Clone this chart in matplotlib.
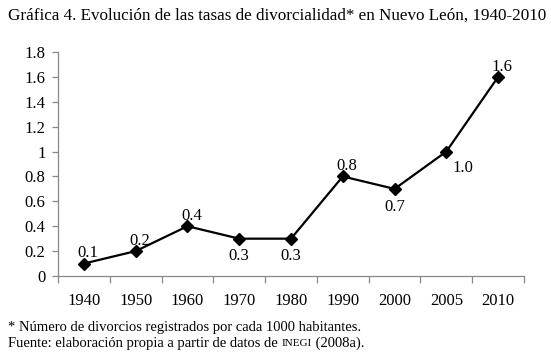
import matplotlib
matplotlib.use("Agg")
import matplotlib.pyplot as plt
from matplotlib.ticker import FixedLocator, NullFormatter

categories = ["1940", "1950", "1960", "1970", "1980", "1990", "2000", "2005", "2010"]
values = [0.1, 0.2, 0.4, 0.3, 0.3, 0.8, 0.7, 1.0, 1.6]
value_labels = ["0.1", "0.2", "0.4", "0.3", "0.3", "0.8", "0.7", "1.0", "1.6"]
label_pos = ["above", "above", "above", "below", "below", "above", "below", "belowright", "above"]
y_ticks = [0, 0.2, 0.4, 0.6, 0.8, 1, 1.2, 1.4, 1.6, 1.8]
y_ticklabels = ["0", "0.2", "0.4", "0.6", "0.8", "1", "1.2", "1.4", "1.6", "1.8"]

title = "Gráfica 4. Evolución de las tasas de divorcialidad* en Nuevo León, 1940-2010"
note1 = "* Número de divorcios registrados por cada 1000 habitantes."
note2a = "Fuente: elaboración propia a partir de datos de "
note2b = "INEGI"
note2c = " (2008a)."

plt.rcParams['font.family'] = ['Liberation Serif', 'DejaVu Serif']

fig = plt.figure(figsize=(5.51, 3.53), dpi=100)
ax = fig.add_axes([58/551, 1-276/353, (524-58)/551, (276-52)/353])

x = list(range(len(categories)))
ax.plot(x, values, color='black', lw=1.6, marker='D', markersize=6.5, zorder=3)

ax.set_xlim(-0.5, len(categories) - 0.5)
ax.set_ylim(0, 1.8)
ax.yaxis.set_major_locator(FixedLocator(y_ticks))
ax.set_yticklabels(y_ticklabels)
ax.set_xticks(x)
ax.set_xticklabels(categories)
ax.xaxis.set_minor_locator(FixedLocator([i - 0.5 for i in range(len(categories) + 1)]))
ax.xaxis.set_minor_formatter(NullFormatter())
ax.tick_params(axis='x', which='major', length=0, pad=12.5, labelsize=12)
ax.tick_params(axis='x', which='minor', length=5, width=0.9, color='#888888', direction='out')
ax.tick_params(axis='y', which='major', length=4, width=0.9, color='#888888', direction='out', labelsize=12, pad=5)

for s in ['top', 'right']:
    ax.spines[s].set_visible(False)
for s in ['left', 'bottom']:
    ax.spines[s].set_color('#888888')
    ax.spines[s].set_linewidth(0.9)

for xi, v, lab, pos in zip(x, values, value_labels, label_pos):
    if pos == 'above':
        off = (3, 1.5); va = 'bottom'
    elif pos == 'below':
        off = (0, -7); va = 'top'
    else:
        off = (12, -6); va = 'top'
    ax.annotate(lab, (xi, v), xytext=off, textcoords='offset points',
                ha='center', va=va, fontsize=12)

fig.text(8/551, 1-16/353, title, fontsize=12.25, va='center', ha='left')
fig.text(8/551, 1-327/353, note1, fontsize=10.5, va='center', ha='left')

renderer = fig.canvas.get_renderer()
t1 = fig.text(8/551, 1-343/353, note2a, fontsize=10.5, va='center', ha='left')
bb = t1.get_window_extent(renderer)
t2 = fig.text(bb.x1/fig.bbox.width, 1-343/353, note2b, fontsize=8, va='center', ha='left')
bb2 = t2.get_window_extent(renderer)
fig.text(bb2.x1/fig.bbox.width, 1-343/353, note2c, fontsize=10.5, va='center', ha='left')

fig.savefig("out.png", dpi=100)
